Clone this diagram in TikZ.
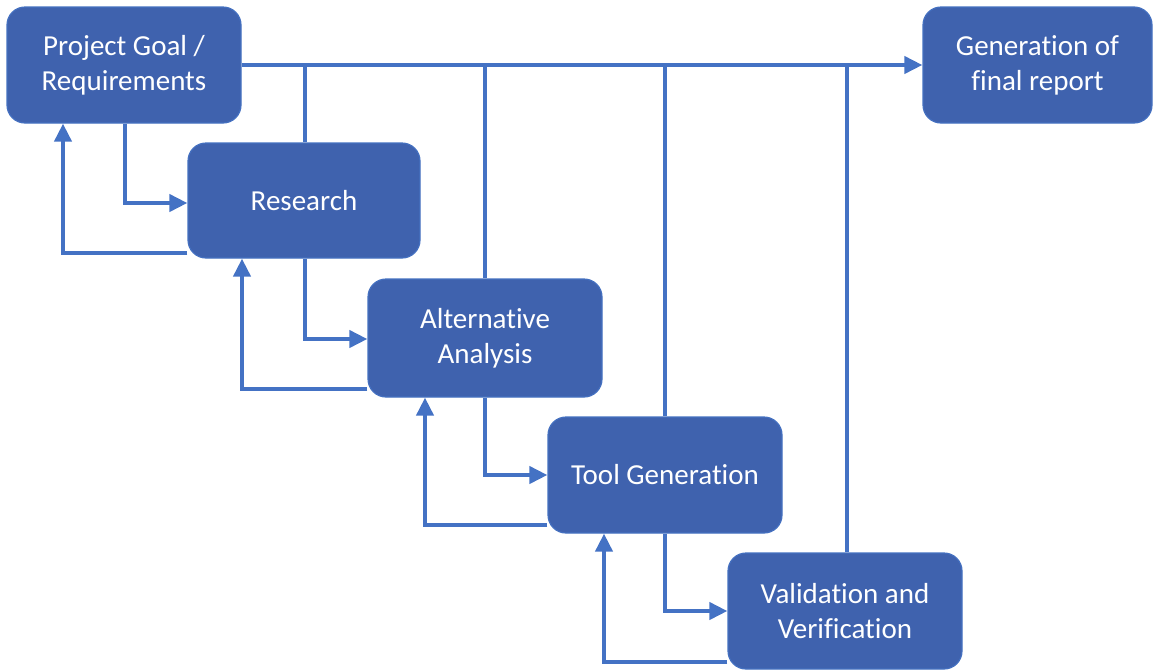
\documentclass[tikz,border=0pt]{standalone}
\usepackage{fontspec}
\setmainfont{Carlito}[Ligatures=NoCommon]
\usetikzlibrary{arrows.meta,backgrounds}
\definecolor{boxfill}{HTML}{3F62AE}
\definecolor{boxedge}{HTML}{4470C0}
\definecolor{linecol}{HTML}{4472C4}
\begin{document}
\begin{tikzpicture}[x=1pt,y=-1pt,
  box/.style={draw=boxedge,line width=1.2pt,fill=boxfill,rounded corners=18pt,
    inner sep=0pt,align=center,text=white,font=\fontsize{29}{35}\selectfont},
  conn/.style={draw=linecol,line width=4pt},
  arr/.style={conn,-{Triangle[length=18pt,width=17pt]}}]
\useasboundingbox (0,0) rectangle (1153,670);
\node[box,minimum width=234pt,minimum height=116pt] (P) at (124,65) {Project Goal /\\Requirements};
\node[box,minimum width=229pt,minimum height=116pt] (G) at (1037.5,65) {Generation of\\final report};
\node[box,minimum width=232pt,minimum height=115pt] (R) at (304,200.5) {Research};
\node[box,minimum width=234pt,minimum height=118pt] (A) at (485,338) {Alternative\\Analysis};
\node[box,minimum width=234pt,minimum height=116pt] (T) at (665,475) {Tool Generation};
\node[box,minimum width=234pt,minimum height=116pt] (V) at (845,611) {Validation and\\Verification};
% junctions on the top line
\coordinate (j1) at (305,65);
\coordinate (j2) at (485,65);
\coordinate (j3) at (665,65);
\coordinate (j4) at (847,65);
% forward bend points
\coordinate (a1) at (125,203);
\coordinate (a2) at (305,339);
\coordinate (a3) at (485,475);
\coordinate (a4) at (665,611);
% feedback bend points
\coordinate (f1) at (63,253);
\coordinate (f2) at (242,389);
\coordinate (f3) at (425,525);
\coordinate (f4) at (604,662);
\begin{scope}[on background layer]
\draw[arr] (P.east) -- (G.west);
\draw[conn] (j1) -- (j1 |- R.north);
\draw[conn] (j2) -- (j2 |- A.north);
\draw[conn] (j3) -- (j3 |- T.north);
\draw[conn] (j4) -- (j4 |- V.north);
\draw[arr] (P.south -| a1) |- (R.west |- a1);
\draw[arr] (R.south -| a2) |- (A.west |- a2);
\draw[arr] (A.south -| a3) |- (T.west |- a3);
\draw[arr] (T.south -| a4) |- (V.west |- a4);
\draw[arr] (R.west |- f1) -| (P.south -| f1);
\draw[arr] (A.west |- f2) -| (R.south -| f2);
\draw[arr] (T.west |- f3) -| (A.south -| f3);
\draw[arr] (V.west |- f4) -| (T.south -| f4);
\end{scope}
\end{tikzpicture}
\end{document}
